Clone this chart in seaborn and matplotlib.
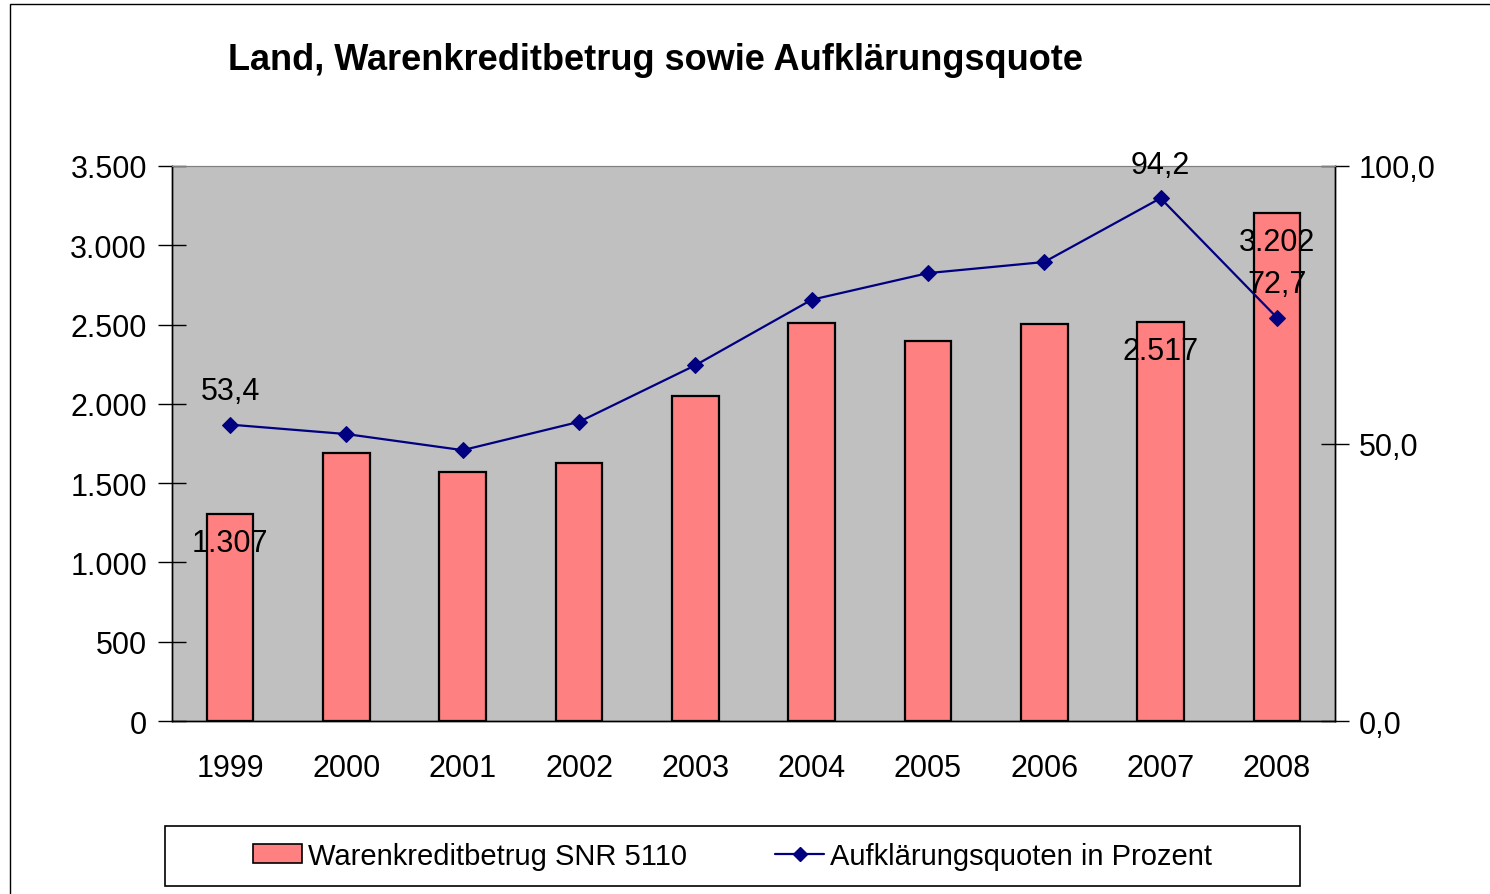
import numpy as np
import pandas as pd
import matplotlib
matplotlib.use("Agg")
import matplotlib.pyplot as plt
import matplotlib.ticker as tkr
from matplotlib.patches import Rectangle, Patch
from matplotlib.lines import Line2D
import seaborn as sns

years = ["1999", "2000", "2001", "2002", "2003", "2004", "2005", "2006", "2007", "2008"]
betrag = [1307, 1690, 1570, 1627, 2050, 2510, 2396, 2504, 2517, 3202]
quote = [53.4, 51.7, 48.8, 53.9, 64.1, 75.9, 80.7, 82.7, 94.2, 72.7]
# only these points carry a value label in the original
bar_labels = {"1999": "1.307", "2007": "2.517", "2008": "3.202"}
line_labels = {"1999": "53,4", "2007": "94,2", "2008": "72,7"}

sns.set_style("white")
plt.rcParams["font.family"] = ["Liberation Sans", "DejaVu Sans"]
plt.rcParams["text.color"] = "black"
plt.rcParams["xtick.color"] = "black"
plt.rcParams["ytick.color"] = "black"

df = pd.DataFrame({"Jahr": years, "Betrag": betrag, "Quote": quote})
pos = np.arange(len(years))

fig = plt.figure(figsize=(14.9, 8.95), dpi=100)
ax = fig.add_axes([172 / 1490, 1 - 722 / 895, (1335 - 172) / 1490, (722 - 167) / 895])
ax.set_facecolor("#C0C0C0")

sns.barplot(data=df, x="Jahr", y="Betrag", ax=ax, color="#FF8080", width=0.4,
            edgecolor="black", linewidth=1.6, saturation=1)
ax.set_xlim(-0.5, len(years) - 0.5)
ax.set_ylim(0, 3500)
ax.set_yticks(np.arange(0, 3501, 500))
ax.yaxis.set_major_formatter(tkr.FuncFormatter(lambda v, p: format(int(v), ",").replace(",", ".")))
ax.set_xlabel("")
ax.set_ylabel("")
ax.set_xticks(pos)
ax.set_xticklabels(years)
ax.set_xticks(np.arange(-0.5, len(years)), minor=True)
ax.tick_params(axis="x", which="major", length=0, pad=23, labelsize=22)
ax.tick_params(axis="x", which="minor", direction="inout", length=18, width=1, color="black")
ax.tick_params(axis="y", direction="inout", length=20, width=1, pad=8, labelsize=22, left=True)

ax2 = ax.twinx()
sns.lineplot(x=pos, y=quote, ax=ax2, color="#000080", marker="D", markersize=8,
             markeredgecolor="#000080", linewidth=1.6)
ax2.set_ylim(0, 100)
ax2.set_yticks([0, 50, 100])
ax2.yaxis.set_major_formatter(tkr.FuncFormatter(lambda v, p: f"{v:.1f}".replace(".", ",")))
ax2.tick_params(axis="y", direction="inout", length=20, width=1, pad=7, labelsize=22, right=True)
ax2.set_ylabel("")

for a in (ax, ax2):
    for s in ["left", "right", "bottom"]:
        a.spines[s].set_color("black")
        a.spines[s].set_linewidth(1)
    a.spines["top"].set_color("#808080")

for i, y in enumerate(years):
    if y in bar_labels:
        ax.annotate(bar_labels[y], (pos[i], betrag[i]), xytext=(0, -21), textcoords="offset points",
                    ha="center", va="center", fontsize=22)
    if y in line_labels:
        ax2.annotate(line_labels[y], (pos[i], quote[i]), xytext=(0, 24), textcoords="offset points",
                     ha="center", va="center", fontsize=22)

fig.text(655 / 1490, 1 - 60 / 895, "Land, Warenkreditbetrug sowie Aufklärungsquote",
         ha="center", va="center", fontsize=26, fontweight="bold")

# outer frame and legend box
fig.patches.append(Rectangle((10 / 1490, -0.1), 1.2, 1 - 5 / 895 + 0.1, transform=fig.transFigure,
                             fill=False, edgecolor="black", linewidth=1))
fig.patches.append(Rectangle((165 / 1490, 1 - 887 / 895), (1300 - 165) / 1490, 60 / 895,
                             transform=fig.transFigure, fill=False, edgecolor="black", linewidth=1.2))

handles = [Patch(facecolor="#FF8080", edgecolor="black", linewidth=1.2),
           Line2D([], [], color="#000080", marker="D", markersize=7, linewidth=1.6)]
fig.legend(handles, ["Warenkreditbetrug SNR 5110", "Aufklärungsquoten in Prozent"],
           loc="center", bbox_to_anchor=(0.4916, 1 - 857 / 895), ncol=2, frameon=False,
           fontsize=21, handlelength=1.7, handleheight=0.6, handletextpad=0.2, columnspacing=3.0)

fig.savefig("out.png", dpi=100)
